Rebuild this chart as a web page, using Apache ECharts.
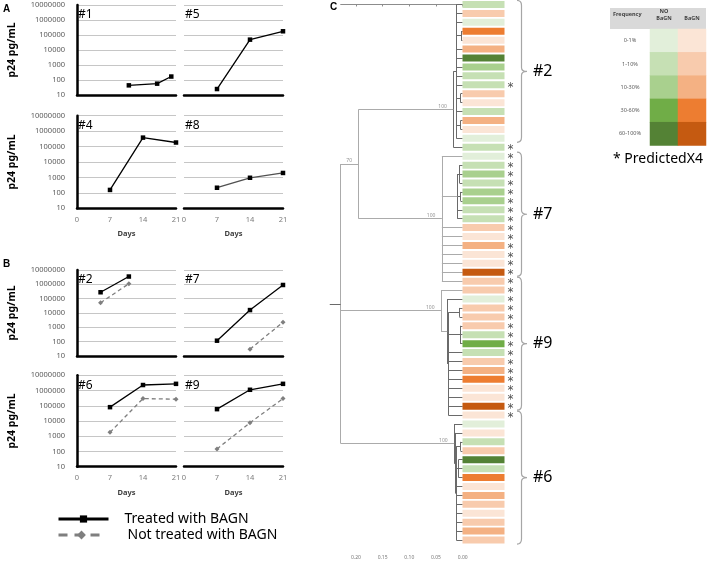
<!DOCTYPE html>
<html>
<head>
<meta charset="utf-8">
<script src="https://cdn.jsdelivr.net/npm/echarts@6/dist/echarts.min.js"></script>
<style>
  html, body { margin: 0; padding: 0; background: #fff; }
  #c { width: 708px; height: 561px; }
</style>
</head>
<body>
<div id="c"></div>
<script>
// ---- panels A/B: [day, p24 pg/mL]
const dayTicks = [0, 7, 14, 21]
const p1T = [[11, 44], [17, 57], [20, 170]]
const p5T = [[7, 25], [14, 49000], [21, 177000]]
const p4T = [[7, 155], [14, 380000], [21, 183000]]
const p8T = [[7, 215], [14, 950], [21, 1950]]
const p2T = [[5, 280000], [11, 3500000]]
const p2N = [[5, 52000], [11, 1100000]]
const p7T = [[7, 117], [14, 16000], [21, 900000]]
const p7N = [[14, 30], [21, 2300]]
const p6T = [[7, 81000], [14, 2300000], [21, 2750000]]
const p6N = [[7, 1800], [14, 296000], [21, 270000]]
const p9T = [[7, 60000], [14, 1120000], [21, 2750000]]
const p9N = [[7, 146], [14, 7700], [21, 296000]]

// ---- panel C: heat column (G = no BaGN, O = BaGN, digit = frequency level)
const rowCodes = [
  'G1', 'O1', 'G0', 'O3', 'O0', 'O2', 'G4', 'G2', 'G1', 'G1',
  'O1', 'O0', 'G1', 'O2', 'O0', 'G0', 'G1', 'G0', 'G1', 'G2',
  'G1', 'G2', 'G2', 'G1', 'G1', 'O1', 'O0', 'O2', 'O0', 'O0',
  'O4', 'O1', 'O1', 'G0', 'O1', 'O1', 'O1', 'G1', 'G3', 'G1',
  'O1', 'O2', 'O3', 'O0', 'O0', 'O4', 'O0', 'G0', 'O0', 'G1',
  'O1', 'G4', 'G1', 'O3', 'O0', 'O2', 'O1', 'O0', 'O1', 'O2',
  'O1'
]
const x4Rows = [9, 16, 17, 18, 19, 20, 21, 22, 23, 24, 25, 26, 27, 28, 29, 30,
  31, 32, 33, 34, 35, 36, 37, 38, 39, 40, 41, 42, 43, 44, 45, 46]
const clusterNames = ['#2', '#7', '#9', '#6']
const clusterFrom = [0, 17, 31, 46]
const clusterTo = [15, 30, 45, 60]
const freqLevels = ['0-1%', '1-10%', '10-30%', '30-60%', '60-100%']
const groupNames = ['NO\nBaGN', 'BaGN']
const greens = ['#e2efda', '#c6e0b4', '#a9d08e', '#70ad47', '#548235']
const oranges = ['#fbe5d6', '#f8cbad', '#f4b183', '#ed7d31', '#c55a11']
const scaleTicks = [0, 0.05, 0.1, 0.15, 0.2]

// tree: h = node depth (substitutions/site), s = bootstrap, c = children (numbers are rows)
const tree = {
  h: 0.2285, stem: 0.0205, c: [
    { h: 0.195, s: '70', c: [
      { h: 0.0175, s: '100', c: [
        { h: 0.012, c: [0, 1, 2, { h: 0.003, c: [3, 4] }, 5, 6, 7, 8, 9,
          { h: 0.004, c: [10, 11] }, 12, { h: 0.004, c: [13, 14] }, 15] },
        16] },
      { h: 0.039, s: '100', c: [17,
        { h: 0.010, c: [{ h: 0.006, c: [18, 19, 20] }, { h: 0.004, c: [21, 22] }, 23, 24] },
        25, 26, 27, 28, 29, 30, 31] }
    ] },
    { h: 0.0406, s: '100', c: [32,
      { h: 0.029, c: [33,
        { h: 0.027, c: [{ h: 0.006, c: [34, 35] }, { h: 0.005, c: [36, 37, 38] },
          39, 40, 41, 42, 43, 44, 45, 46] }] }] },
    { h: 0.016, s: '100', c: [47,
      { h: 0.0135, c: [48,
        { h: 0.012, c: [{ h: 0.004, c: [49, 50] }, { h: 0.008, c: [51, 52, 53] },
          54, 55, 56, 57, 58, 59, 60] }] }] }
  ]
}

const FONT = 'Noto Sans'
const chart = echarts.init(document.getElementById('c'))

// ---- small log charts
const rowsLayout = [
  { top: 5, height: 90 },
  { top: 115.7, height: 92.6 },
  { top: 270, height: 86 },
  { top: 375.3, height: 91.4 }
]
const colLeft = [77, 184]
const PANEL_W = 99
const panels = [
  { name: '#1', row: 0, col: 0, t: p1T },
  { name: '#5', row: 0, col: 1, t: p5T },
  { name: '#4', row: 1, col: 0, t: p4T },
  { name: '#8', row: 1, col: 1, t: p8T, tColor: '#505050' },
  { name: '#2', row: 2, col: 0, t: p2T, n: p2N },
  { name: '#7', row: 2, col: 1, t: p7T, n: p7N },
  { name: '#6', row: 3, col: 0, t: p6T, n: p6N },
  { name: '#9', row: 3, col: 1, t: p9T, n: p9N }
]

const grid = [], xAxis = [], yAxis = [], series = [], title = []
panels.forEach((p, i) => {
  const r = rowsLayout[p.row]
  const bottomRow = p.row === 1 || p.row === 3
  const firstCol = p.col === 0
  grid.push({ left: colLeft[p.col], top: r.top, width: PANEL_W, height: r.height })
  xAxis.push({
    type: 'value', gridIndex: i, min: 0, max: 21,
    axisLine: { show: true, onZero: false, lineStyle: { color: '#000', width: 2.5 } },
    axisTick: { show: false },
    splitLine: { show: false },
    axisLabel: { show: false },
    name: bottomRow ? 'Days' : '', nameLocation: 'middle', nameGap: 22,
    nameTextStyle: { fontSize: 7.5, fontWeight: 'bold', color: '#404040', fontFamily: FONT }
  })
  yAxis.push({
    type: 'log', logBase: 10, gridIndex: i, min: 10, max: 10000000, splitNumber: 6,
    offset: 7,
    axisLine: { show: firstCol, lineStyle: { color: '#000', width: 2.5 } },
    axisTick: { show: false },
    splitLine: { show: true, lineStyle: { color: '#c6c6c6', width: 1 } },
    axisLabel: {
      show: firstCol, fontSize: 7.5, color: '#595959', fontFamily: FONT, margin: 5,
      formatter: v => String(Math.round(v))
    },
    name: firstCol ? 'p24 pg/mL' : '', nameLocation: 'middle', nameGap: 52,
    nameTextStyle: { fontSize: 10.5, fontWeight: 'bold', color: '#000', fontFamily: FONT }
  })
  title.push({
    text: p.name, left: colLeft[p.col] + 1, top: r.top + 4, padding: 0,
    textStyle: { fontSize: 12, fontWeight: 'normal', color: '#000', fontFamily: FONT }
  })
  if (p.n) {
    series.push({
      type: 'line', name: 'Not treated with BAGN', xAxisIndex: i, yAxisIndex: i,
      data: p.n, symbol: 'diamond', symbolSize: 5,
      lineStyle: { color: '#7f7f7f', width: 1.3, type: [4, 3] },
      itemStyle: { color: '#7f7f7f' }, z: 2
    })
  }
  series.push({
    type: 'line', name: 'Treated with BAGN', xAxisIndex: i, yAxisIndex: i,
    data: p.t, symbol: 'rect', symbolSize: 4.5,
    lineStyle: { color: p.tColor || '#000', width: 1.3 },
    itemStyle: { color: '#000' }, z: 3
  })
})

// day tick labels under each bottom row, drawn as labels of a row-wide scatter
// (axis labels of neighbouring panels were dropping the right panel's "0")
const pxPerDay = PANEL_W / 21
const shift = (colLeft[1] - colLeft[0]) / pxPerDay
const spanDays = (colLeft[1] + PANEL_W - colLeft[0]) / pxPerDay
;[1, 3].forEach(row => {
  const r = rowsLayout[row]
  const gi = grid.length
  grid.push({ left: colLeft[0], top: r.top, width: colLeft[1] + PANEL_W - colLeft[0], height: r.height })
  xAxis.push({ type: 'value', gridIndex: gi, min: 0, max: spanDays, show: false })
  yAxis.push({ type: 'value', gridIndex: gi, min: 0, max: 1, show: false })
  series.push({
    type: 'scatter', xAxisIndex: gi, yAxisIndex: gi, silent: true, clip: false,
    symbolSize: 1, itemStyle: { color: 'transparent' },
    data: dayTicks.map(d => [d, 0, d]).concat(dayTicks.map(d => [d + shift, 0, d])),
    label: { show: true, position: 'bottom', distance: 7, formatter: p => String(p.data[2]),
      fontSize: 7.5, color: '#595959', fontFamily: FONT }
  })
})

// ---- tree layout
const segs = [], supports = []
function place(node) {
  if (typeof node === 'number') return { y: node, h: 0 }
  const kids = node.c.map(place)
  const y = (kids[0].y + kids[kids.length - 1].y) / 2
  const col = node.h >= 0.03 ? '#ababab' : '#6a6a6a'
  segs.push({ coords: [[node.h, kids[0].y], [node.h, kids[kids.length - 1].y]], lineStyle: { color: col } })
  kids.forEach(k => segs.push({ coords: [[node.h, k.y], [k.h, k.y]], lineStyle: { color: col } }))
  if (node.s) supports.push([node.h, y, node.s])
  return { y, h: node.h }
}
const rootPos = place(tree)
segs.push({ coords: [[tree.h, rootPos.y], [tree.h + tree.stem, rootPos.y]], lineStyle: { color: '#6a6a6a' } })

const TREE = grid.length, HEAT = TREE + 1, KEY = TREE + 2
grid.push({ left: 340.7, right: 245.3, top: 0, bottom: 16.5 })
xAxis.push({
  type: 'value', gridIndex: TREE, min: 0, max: tree.h, inverse: true, offset: 8.5,
  axisLine: { lineStyle: { color: '#8c8c8c', width: 1 } },
  axisTick: { customValues: scaleTicks, length: 2, lineStyle: { color: '#8c8c8c' } },
  axisLabel: { customValues: scaleTicks, fontSize: 5, color: '#777', margin: 2, fontFamily: FONT,
    formatter: v => v.toFixed(2) },
  splitLine: { show: false }
})
yAxis.push({ type: 'value', gridIndex: TREE, min: -0.5, max: rowCodes.length - 0.5, inverse: true, show: false })
series.push({
  type: 'lines', coordinateSystem: 'cartesian2d', xAxisIndex: TREE, yAxisIndex: TREE,
  data: segs, lineStyle: { width: 1, opacity: 1 }, clip: false, silent: true, z: 2
})
series.push({
  type: 'scatter', xAxisIndex: TREE, yAxisIndex: TREE, data: supports,
  symbolSize: 1, itemStyle: { color: 'transparent' }, clip: false, silent: true,
  label: { show: true, position: 'left', formatter: p => p.data[2], fontSize: 5, color: '#777',
    fontFamily: FONT, offset: [-1, -3] }
})

// ---- heat column + X4 stars + cluster braces
grid.push({ left: 462.5, width: 52.5, top: 0, bottom: 16.5 })
xAxis.push({ type: 'value', gridIndex: HEAT, min: 0, max: 1.25, show: false })
yAxis.push({ type: 'category', gridIndex: HEAT, data: rowCodes.map((c, i) => String(i)), inverse: true, show: false })
const colorOf = code => (code[0] === 'G' ? greens : oranges)[+code[1]]
series.push({
  type: 'bar', xAxisIndex: HEAT, yAxisIndex: HEAT, barWidth: 7, silent: true,
  data: rowCodes.map(code => ({ value: 1, itemStyle: { color: colorOf(code) } }))
})
series.push({
  type: 'scatter', xAxisIndex: HEAT, yAxisIndex: HEAT, silent: true,
  data: x4Rows.map(r => [1.14, r]), symbolSize: 1, itemStyle: { color: 'transparent' },
  label: { show: true, position: 'inside', formatter: '*', fontSize: 12, color: '#222',
    fontFamily: 'DejaVu Sans', offset: [0, 3] }
})
series.push({
  type: 'custom', xAxisIndex: HEAT, yAxisIndex: HEAT, silent: true,
  data: clusterNames.map((n, i) => [1, clusterFrom[i]]),
  renderItem(params, api) {
    const i = params.dataIndex
    const band = api.size([0, 1])[1]
    const x0 = api.coord([1, 0])[0]
    const y0 = api.coord([1, clusterFrom[i]])[1] - band * 0.45
    const y1 = api.coord([1, clusterTo[i]])[1] + band * 0.45
    const ym = (y0 + y1) / 2
    const xs = x0 + 12.5, xv = x0 + 17, xt = x0 + 22.5
    const d = `M${xs} ${y0} Q${xv} ${y0} ${xv} ${y0 + 5} L${xv} ${ym - 4} Q${xv} ${ym} ${xt} ${ym}` +
      ` Q${xv} ${ym} ${xv} ${ym + 4} L${xv} ${y1 - 5} Q${xv} ${y1} ${xs} ${y1}`
    return {
      type: 'group', children: [
        { type: 'path', shape: { pathData: d }, style: { fill: 'none', stroke: '#a6a6a6', lineWidth: 1.2 } },
        { type: 'text', style: { text: clusterNames[i], x: x0 + 28.5, y: ym, verticalAlign: 'middle',
          fontSize: 16, fill: '#000', fontFamily: FONT } }
      ]
    }
  }
})

// ---- frequency key table
grid.push({ left: 650, top: 29, width: 56, height: 116.5 })
xAxis.push({
  type: 'category', gridIndex: KEY, data: groupNames, position: 'top',
  axisLine: { show: false }, axisTick: { show: false },
  axisLabel: { fontSize: 5.5, fontWeight: 'bold', color: '#404040', margin: 7, fontFamily: FONT, lineHeight: 7 }
})
yAxis.push({
  type: 'category', gridIndex: KEY, data: freqLevels, inverse: true,
  axisLine: { show: false }, axisTick: { show: false },
  axisLabel: { fontSize: 5.5, color: '#595959', align: 'center', margin: 20, fontFamily: FONT }
})
const keyCells = []
groupNames.forEach((g, c) => freqLevels.forEach((f, r) => keyCells.push({
  value: [c, r, r], itemStyle: { color: (c === 0 ? greens : oranges)[r] }
})))
series.push({ type: 'heatmap', xAxisIndex: KEY, yAxisIndex: KEY, data: keyCells, silent: true })

// panel letters
const letters = [['A', 3, 4], ['B', 3, 259], ['C', 330, 2]]
letters.forEach(l => title.push({
  text: l[0], left: l[1], top: l[2], padding: 0,
  textStyle: { fontSize: 10, fontWeight: 'bold', color: '#000', fontFamily: 'Liberation Sans' }
}))

chart.setOption({
  animation: false,
  title,
  grid, xAxis, yAxis, series,
  legend: [
    {
      data: [{ name: 'Treated with BAGN' }], left: 57, top: 512, itemWidth: 50, itemHeight: 9,
      padding: 0, selectedMode: false, lineStyle: { width: 3 },
      textStyle: { fontSize: 14, color: '#000', fontFamily: FONT, padding: [0, 0, 0, 11] }
    },
    {
      data: [{ name: 'Not treated with BAGN', lineStyle: { width: 3, type: [9, 7], color: '#7f7f7f' } }],
      left: 57, top: 528, itemWidth: 46, itemHeight: 11,
      padding: 0, selectedMode: false,
      textStyle: { fontSize: 14, color: '#000', fontFamily: FONT, padding: [0, 0, 0, 18] }
    }
  ],
  graphic: [
    { type: 'rect', left: 610, top: 8, shape: { width: 96, height: 21 }, style: { fill: '#d9d9d9' }, z: -10 },
    { type: 'text', left: 613, top: 11, style: { text: 'Frequency', fontSize: 5.5, fontWeight: 'bold',
      fill: '#404040', fontFamily: FONT } },
    { type: 'text', left: 613, top: 152, style: { text: '* PredictedX4', fontSize: 14, fill: '#000', fontFamily: FONT } }
  ]
})
</script>
</body>
</html>
